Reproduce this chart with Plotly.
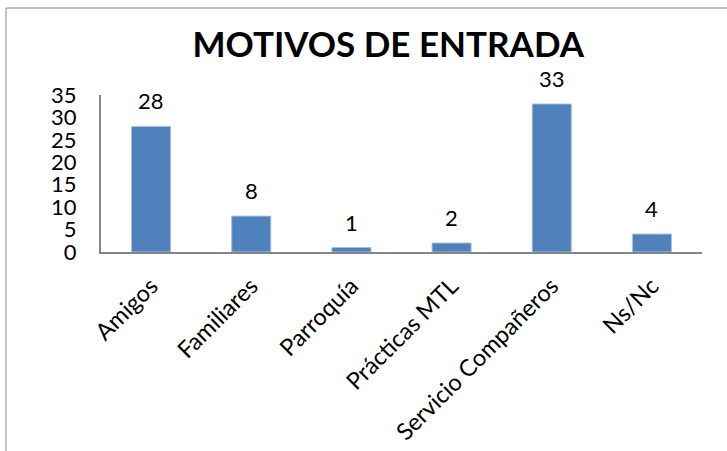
import plotly.graph_objects as go

categories = ["Amigos", "Familiares", "Parroquía", "Prácticas MTL", "Servicio Compañeros", "Ns/Nc"]
values = [28, 8, 1, 2, 33, 4]
y_ticks = [0, 5, 10, 15, 20, 25, 30, 35]

FONT = "Lato"
W, H = 727, 451
L, R, T, B = 101, 25, 95, 199
pw = W - L - R
ph = H - T - B

def px_x(px):
    return (px - L) / pw

def px_y(py):
    return (H - B - py) / ph

fig = go.Figure(go.Bar(
    x=categories, y=values,
    marker=dict(color="#4F81BD", line=dict(color="#a9c0e0", width=1)),
    cliponaxis=False, width=0.39,
))

for c, v in zip(categories, values):
    fig.add_annotation(x=c, y=v, text=str(v), showarrow=False, yanchor="bottom",
                       yshift=10, font=dict(family=FONT, size=22, color="#000"))

fig.update_layout(
    width=W, height=H,
    margin=dict(l=L, r=R, t=T, b=B, autoexpand=False),
    paper_bgcolor="white", plot_bgcolor="white",
    showlegend=False,
    title=dict(text="<b>MOTIVOS DE ENTRADA</b>", x=0.534, xanchor="center",
               y=1 - 45 / H, yanchor="middle",
               font=dict(family=FONT, size=35, color="#000")),
    xaxis=dict(showline=True, linecolor="#868686", linewidth=2, tickangle=-45,
               tickfont=dict(family=FONT, size=23.5, color="#000"), showgrid=False,
               ticks="outside", ticklen=9, tickcolor="rgba(0,0,0,0)", automargin=False),
    yaxis=dict(range=[0, 35], tickvals=y_ticks, showline=True, linecolor="#868686",
               linewidth=2, showgrid=False, zeroline=False,
               tickfont=dict(family=FONT, size=22, color="#000"),
               ticks="outside", ticklen=18, tickcolor="rgba(0,0,0,0)", automargin=False),
    shapes=[dict(type="rect", xref="paper", yref="paper",
                 x0=px_x(6), x1=px_x(740), y0=px_y(470), y1=px_y(8),
                 line=dict(color="#868686", width=1), layer="below")],
)

fig.write_html("out.html", config={"displayModeBar": False},
               post_script="document.body.style.margin='0';document.body.style.overflow='hidden';")
